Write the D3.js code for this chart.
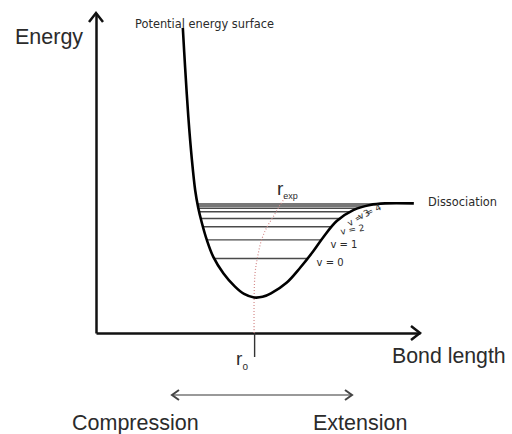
<!DOCTYPE html>
<html>
  <head>
    <meta charset="utf-8">
    <style>
      body { margin: 0; background: #fff; }
      text { font-family: "Liberation Sans", Arial, sans-serif; fill: #2b2b2b; }
      .small { font-family: "DejaVu Sans", sans-serif; }
    </style>
  </head>
  <body>
    <script src="https://d3js.org/d3.v7.min.js"></script>
    <script>
    // potential energy curve (bond length, energy) in arbitrary units
    var bondLength = [2.68, 2.75, 2.85, 2.96, 3.06, 3.15, 3.26, 3.42, 3.62, 3.93, 4.29, 4.57, 4.88,
                      5.14, 5.40, 5.89, 6.30, 6.71, 7.02, 7.43, 7.94, 8.46, 8.92, 9.81];
    var energy     = [9.53, 8.31, 6.75, 5.41, 4.47, 3.94, 3.47, 2.91, 2.38, 1.87, 1.45, 1.22, 1.11,
                      1.13, 1.24, 1.58, 2.04, 2.56, 3.00, 3.50, 3.84, 4.00, 4.05, 4.05];

    // vibrational levels
    var levelEnergy = [2.33, 2.91, 3.32, 3.58, 3.79, 3.90, 3.97, 4.03];
    var levelLabels = ["v = 0", "v = 1", "v = 2", "v = 3", "v = 4"];
    var labelAngles = [0, 0, -10, -30, -25];

    // mean bond length per level (r_exp), dotted
    var rExpBond   = [4.88, 4.88, 4.91, 4.98, 5.11, 5.28, 5.47, 5.68, 5.83];
    var rExpEnergy = [0, 1.09, 1.875, 2.34, 2.91, 3.32, 3.63, 4.00, 4.22];

    var r0 = 4.88;

    var width = 512, height = 434;

    var svg = d3.select("body")
                .append("svg")
                  .attr("width", width)
                  .attr("height", height);

    var x = d3.scaleLinear().domain([0, 10]).range([96, 420]);
    var y = d3.scaleLinear().domain([0, 10]).range([333, 13]);

    // axes: x axis carries the single r0 tick
    var xAxis = svg.append("g")
        .attr("transform", "translate(0," + y(0) + ")")
        .call(d3.axisBottom(x).tickValues([r0]).tickSize(24).tickSizeOuter(0).tickFormat(""));
    xAxis.select(".domain").attr("stroke", "#111").attr("stroke-width", 2.5);
    xAxis.selectAll(".tick line").attr("stroke", "#333").attr("stroke-width", 1.4);

    var yAxis = svg.append("g")
        .attr("transform", "translate(" + x(0) + ",0)")
        .call(d3.axisLeft(y).tickValues([]).tickSizeOuter(0));
    yAxis.select(".domain").attr("stroke", "#111").attr("stroke-width", 2.5);

    // arrow heads
    var xEnd = x(10), yTop = y(10);
    svg.append("path")
        .attr("d", "M" + (xEnd - 9) + "," + (y(0) - 7) + "L" + xEnd + "," + y(0) + "L" + (xEnd - 9) + "," + (y(0) + 7))
        .attr("fill", "none").attr("stroke", "#111").attr("stroke-width", 2.5);
    svg.append("path")
        .attr("d", "M" + (x(0) - 7) + "," + (yTop + 9) + "L" + x(0) + "," + yTop + "L" + (x(0) + 7) + "," + (yTop + 9))
        .attr("fill", "none").attr("stroke", "#111").attr("stroke-width", 2.5);

    // crossings of a level with the curve
    var iMin = d3.minIndex(energy);
    function crossLeft(e) {
      for (var i = iMin; i > 0; i--) {
        if (energy[i - 1] >= e && energy[i] <= e) {
          var t = (e - energy[i]) / (energy[i - 1] - energy[i]);
          return bondLength[i] + t * (bondLength[i - 1] - bondLength[i]);
        }
      }
      return bondLength[0];
    }
    function crossRight(e) {
      for (var i = iMin; i < energy.length - 1; i++) {
        if (energy[i] <= e && energy[i + 1] >= e) {
          var t = (e - energy[i]) / (energy[i + 1] - energy[i]);
          return bondLength[i] + t * (bondLength[i + 1] - bondLength[i]);
        }
      }
      return bondLength[bondLength.length - 1];
    }

    // levels
    svg.selectAll(".level")
      .data(levelEnergy)
      .enter().append("line")
        .attr("class", "level")
        .attr("x1", function (d) { return x(crossLeft(d)); })
        .attr("x2", function (d) { return x(crossRight(d)); })
        .attr("y1", function (d) { return y(d); })
        .attr("y2", function (d) { return y(d); })
        .attr("stroke", "#4a4a4a")
        .attr("stroke-width", 1.4);

    // r_exp dotted line
    svg.append("path")
        .datum(d3.range(rExpBond.length))
        .attr("fill", "none")
        .attr("stroke", "#d48a8a")
        .attr("stroke-width", 1.2)
        .attr("stroke-dasharray", "1,2")
        .attr("d", d3.line()
          .curve(d3.curveCatmullRom)
          .x(function (i) { return x(rExpBond[i]); })
          .y(function (i) { return y(rExpEnergy[i]); }));

    // potential curve
    svg.append("path")
        .datum(d3.range(bondLength.length))
        .attr("fill", "none")
        .attr("stroke", "#000")
        .attr("stroke-width", 2.6)
        .attr("d", d3.line()
          .curve(d3.curveCatmullRom)
          .x(function (i) { return x(bondLength[i]); })
          .y(function (i) { return y(energy[i]); }));

    // level labels
    svg.selectAll(".vlab")
      .data(levelLabels)
      .enter().append("text")
        .attr("class", "small")
        .attr("font-size", function (d, i) { return i < 2 ? 10 : 9; })
        .attr("fill", "#444")
        .attr("transform", function (d, i) {
          var px = x(crossRight(levelEnergy[i])) + 9, py = y(levelEnergy[i]) + 8;
          return "translate(" + px + "," + py + ") rotate(" + labelAngles[i] + ")";
        })
        .text(function (d) { return d; });

    // texts
    svg.append("text").attr("x", 15).attr("y", 44).attr("font-size", 21.5).text("Energy");
    svg.append("text").attr("class", "small").attr("x", 135).attr("y", 28).attr("font-size", 11.4)
        .attr("fill", "#3a3a3a").text("Potential energy surface");
    svg.append("text").attr("class", "small").attr("x", 428).attr("y", 206).attr("font-size", 11.4)
        .attr("fill", "#3a3a3a").text("Dissociation");
    svg.append("text").attr("x", 392).attr("y", 363).attr("font-size", 21.3).text("Bond length");
    svg.append("text").attr("x", 72).attr("y", 430).attr("font-size", 21.5).text("Compression");
    svg.append("text").attr("x", 313).attr("y", 430).attr("font-size", 21.5).text("Extension");

    var r0Label = svg.append("text").attr("x", x(r0) - 18).attr("y", 365).attr("font-size", 19);
    r0Label.append("tspan").text("r");
    r0Label.append("tspan").attr("font-size", 10).attr("dy", 5).text("o");

    var rExpLabel = svg.append("text").attr("x", x(rExpBond[rExpBond.length - 1]) - 8).attr("y", 195).attr("font-size", 19);
    rExpLabel.append("tspan").text("r");
    rExpLabel.append("tspan").attr("font-size", 9).attr("dy", 4).text("exp");

    // compression / extension double arrow
    var ay = 395, ax1 = 172, ax2 = 352;
    svg.append("line").attr("x1", ax1).attr("x2", ax2).attr("y1", ay).attr("y2", ay)
        .attr("stroke", "#999").attr("stroke-width", 2);
    svg.append("path")
        .attr("d", "M" + (ax1 + 7) + "," + (ay - 5) + "L" + ax1 + "," + ay + "L" + (ax1 + 7) + "," + (ay + 5) +
                   "M" + (ax2 - 7) + "," + (ay - 5) + "L" + ax2 + "," + ay + "L" + (ax2 - 7) + "," + (ay + 5))
        .attr("fill", "none").attr("stroke", "#444").attr("stroke-width", 2);
    </script>
  </body>
</html>
